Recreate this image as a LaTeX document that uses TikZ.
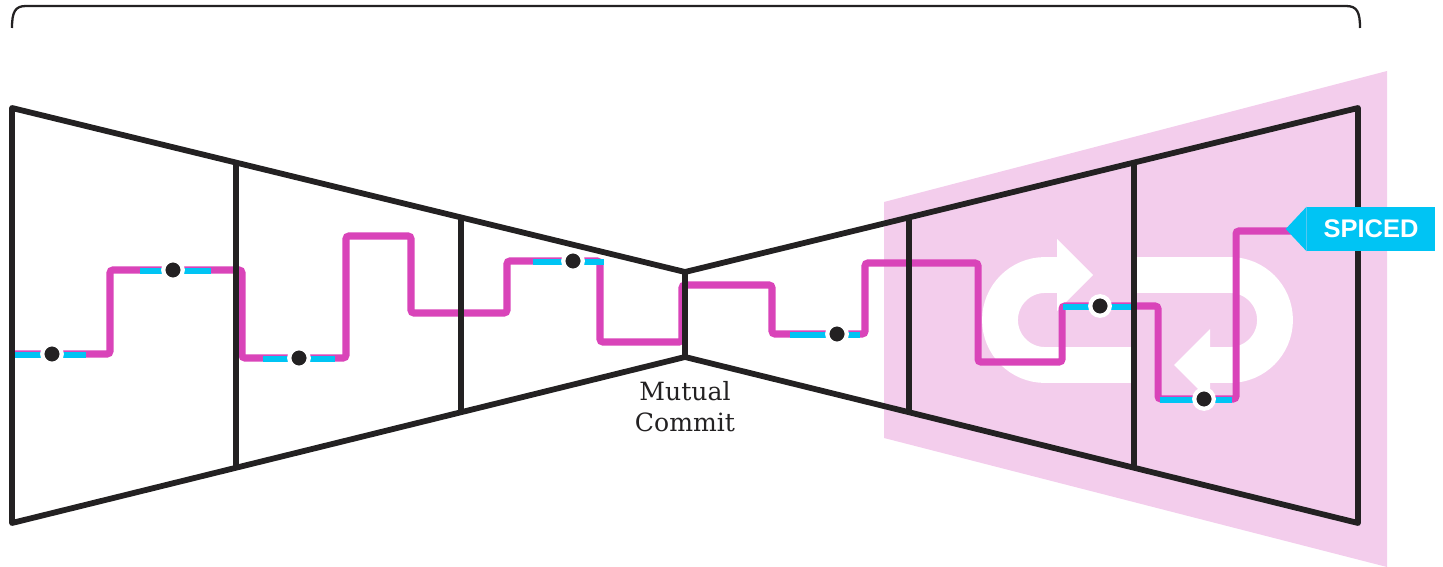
\documentclass[tikz,border=0pt]{standalone}
\usepackage{fontspec}
\newfontfamily\tagfont{Liberation Sans}
\newfontfamily\labelfont{DejaVu Serif}
\usetikzlibrary{calc}

\definecolor{framegray}{RGB}{35,33,34}
\definecolor{routepink}{RGB}{217,68,185}
\definecolor{segcyan}{RGB}{0,196,244}
\definecolor{zonepink}{RGB}{243,205,236}

\tikzset{
  frame/.style={draw=framegray,line width=3.3pt,line join=round},
  route/.style={draw=routepink,line width=4pt,rounded corners=1.6pt},
  cyanseg/.style={draw=segcyan,line width=3.1pt},
  waypoint/.style={circle,fill=framegray,draw=white,line width=2.4pt,minimum size=0.39cm,inner sep=0pt},
  loopband/.style={draw=white,line width=20.4pt,rounded corners=0.9cm},
}

\begin{document}
\begin{tikzpicture}[x=0.02cm,y=-0.02cm]
  \useasboundingbox (0,0) rectangle (1443,567);

  % bracket over the whole funnel
  \draw[framegray,line width=1.3pt] (12,28) .. controls (12,12) and (15,6) .. (26,6) -- (1346,6) .. controls (1357,6) and (1360,12) .. (1360,28);

  % shaded zone behind the right half
  \fill[zonepink] (884,202) -- (1387,71) -- (1387,567) -- (884,438) -- cycle;

  % white loop with its two arrows
  \draw[loopband] (1133,365) -- (1000,365) -- (1000,275) -- (1059,275);
  \fill[white] (1057,239) -- (1093,275) -- (1057,311) -- cycle;
  \draw[loopband] (1133,275) -- (1275,275) -- (1275,365) -- (1208,365);
  \fill[white] (1210,329) -- (1174,365) -- (1210,401) -- cycle;

  % the route
  \draw[route] (15,354) -- (110,354) -- (110,270) -- (242,270) -- (242,358) -- (346,358)
    -- (346,236) -- (411,236) -- (411,313) -- (507,313) -- (507,261) -- (600,261)
    -- (600,342) -- (682,342) -- (682,285) -- (772,285) -- (772,334) -- (865,334)
    -- (865,263) -- (978,263) -- (978,362) -- (1062,362) -- (1062,306) -- (1158,306)
    -- (1158,399) -- (1236,399) -- (1236,231) -- (1295,231);
  \foreach \a/\b/\y in {15/86/354, 140/211/270, 263/335/358, 533/604/261, 790/860/334, 1063/1133/306, 1160/1232/399}
    \draw[cyanseg] (\a,\y+0.8) -- (\b,\y+0.8);

  % funnel frame
  \coordinate (ltop) at (12,108);
  \coordinate (lbot) at (12,523);
  \coordinate (ctop) at (685,272);
  \coordinate (cbot) at (685,357);
  \coordinate (rtop) at (1358,108);
  \coordinate (rbot) at (1358,523);
  \draw[frame] (ltop) -- (ctop) -- (rtop) -- (rbot) -- (cbot) -- (lbot) -- cycle;
  \draw[frame] (ctop) -- (cbot);
  \foreach \t in {0.3333,0.6667} {
    \draw[frame] ($(ltop)!\t!(ctop)$) -- ($(lbot)!\t!(cbot)$);
    \draw[frame] ($(ctop)!\t!(rtop)$) -- ($(cbot)!\t!(rbot)$);
  }

  % stops along the route
  \foreach \x/\y [count=\i] in {52/354, 173/270, 299/358, 573/261, 837/334, 1100/306, 1204/399}
    \node[waypoint] (stop\i) at (\x,\y) {};

  \node[font=\labelfont\fontsize{14.3}{17.6}\selectfont,align=center,anchor=north,inner sep=0pt,text=framegray] (commit) at (685,381) {Mutual\\Commit};

  \node[fill=segcyan,text=white,font=\tagfont\bfseries\fontsize{14.5}{16}\selectfont,minimum width=2.56cm,minimum height=0.88cm,inner sep=0pt] (spiced) at (1371,229) {SPICED};
  \fill[segcyan] (spiced.north west) -- ([xshift=-0.42cm]spiced.west) -- (spiced.south west) -- cycle;
\end{tikzpicture}
\end{document}
